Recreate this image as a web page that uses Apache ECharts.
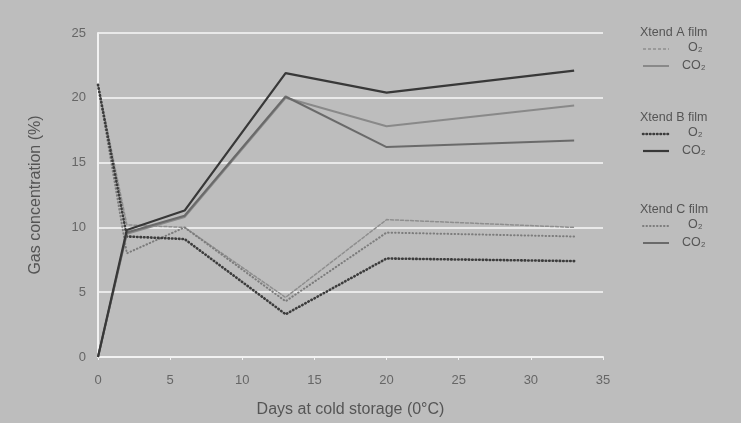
<!DOCTYPE html>
<html><head><meta charset="utf-8">
<script src="https://cdn.jsdelivr.net/npm/echarts@6/dist/echarts.min.js"></script>
<style>html,body{margin:0;padding:0;background:#bdbdbd}#c{width:741px;height:423px}</style>
</head><body><div id="c"></div>
<script>
const days = [0, 2, 6, 13, 20, 33];
const xTicks = [0, 5, 10, 15, 20, 25, 30, 35];
const yTicks = [0, 5, 10, 15, 20, 25];
const aO2  = [21, 10.2, 10.0, 4.6, 10.6, 10.0];
const aCO2 = [0, 9.5, 10.8, 20.0, 17.8, 19.4];
const bO2  = [21, 9.3, 9.1, 3.3, 7.6, 7.4];
const bCO2 = [0, 9.8, 11.3, 21.9, 20.4, 22.1];
const cO2  = [21, 8.0, 10.0, 4.3, 9.6, 9.3];
const cCO2 = [0, 9.6, 10.9, 20.1, 16.2, 16.7];

const pair = arr => days.map((d, i) => [d, arr[i]]);
const txt = '#555';
const font = 'Liberation Sans';

function mkSeries(name, arr, color, type, width, dash) {
  return {
    name, type: 'line', data: pair(arr), symbol: 'none', silent: true,
    lineStyle: { color, width, type, cap: dash ? 'round' : 'butt' },
    z: 3
  };
}

function legendGroup(title, y, o2Style, co2Style) {
  const els = [];
  els.push({ type: 'text', left: 640, top: y, style: { text: title, fill: txt, font: '12.5px ' + font } });
  els.push({ type: 'line', shape: { x1: 643, y1: y + 23, x2: 669, y2: y + 23 }, style: o2Style });
  els.push({ type: 'text', left: 688, top: y + 15, style: { text: 'O₂', fill: txt, font: '12.5px ' + font } });
  els.push({ type: 'line', shape: { x1: 643, y1: y + 40, x2: 669, y2: y + 40 }, style: co2Style });
  els.push({ type: 'text', left: 682, top: y + 33, style: { text: 'CO₂', fill: txt, font: '12.5px ' + font } });
  return els;
}

const cA_O2 = '#8e8e8e', cA_CO2 = '#898989';
const cB_O2 = '#3c3c3c', cB_CO2 = '#383838';
const cC_O2 = '#7c7c7c', cC_CO2 = '#6a6a6a';

const chart = echarts.init(document.getElementById('c'));
chart.setOption({
  backgroundColor: '#bdbdbd',
  animation: false,
  grid: { left: 98, right: 138, top: 33, bottom: 66 },
  xAxis: {
    type: 'value', min: 0, max: 35, interval: 5,
    name: 'Days at cold storage (0°C)', nameLocation: 'middle', nameGap: 45,
    nameTextStyle: { color: txt, fontSize: 16, fontFamily: font },
    axisLine: { show: true, lineStyle: { color: '#f2f2f2', width: 2 } },
    axisTick: { show: true, length: 3, lineStyle: { color: '#f2f2f2' } },
    axisLabel: { color: '#666', fontSize: 13, fontFamily: font, margin: 17 },
    splitLine: { show: false }
  },
  yAxis: {
    type: 'value', min: 0, max: 25, interval: 5,
    name: 'Gas concentration (%)', nameLocation: 'middle', nameGap: 54, nameRotate: 90,
    nameTextStyle: { color: txt, fontSize: 16, fontFamily: font },
    axisLine: { show: true, lineStyle: { color: '#f2f2f2', width: 2 } },
    axisTick: { show: false },
    axisLabel: { color: '#666', fontSize: 13, fontFamily: font, margin: 12 },
    splitLine: { show: true, lineStyle: { color: '#e9e9e9', width: 2 } }
  },
  series: [
    mkSeries('A O2', aO2, cA_O2, [3, 2], 1.5, true),
    mkSeries('C O2', cO2, cC_O2, [0.5, 3], 2, true),
    mkSeries('B O2', bO2, cB_O2, [0.5, 3], 2.6, true),
    mkSeries('A CO2', aCO2, cA_CO2, 'solid', 2),
    mkSeries('C CO2', cCO2, cC_CO2, 'solid', 2),
    mkSeries('B CO2', bCO2, cB_CO2, 'solid', 2.2)
  ],
  graphic: [
    ...legendGroup('Xtend A film', 26, { stroke: cA_O2, lineWidth: 1.5, lineDash: [3, 2] }, { stroke: cA_CO2, lineWidth: 2 }),
    ...legendGroup('Xtend B film', 111, { stroke: cB_O2, lineWidth: 2.6, lineDash: [0.5, 3], lineCap: 'round' }, { stroke: cB_CO2, lineWidth: 2.2 }),
    ...legendGroup('Xtend C film', 203, { stroke: cC_O2, lineWidth: 2, lineDash: [0.5, 3], lineCap: 'round' }, { stroke: cC_CO2, lineWidth: 2 })
  ]
});
</script></body></html>
